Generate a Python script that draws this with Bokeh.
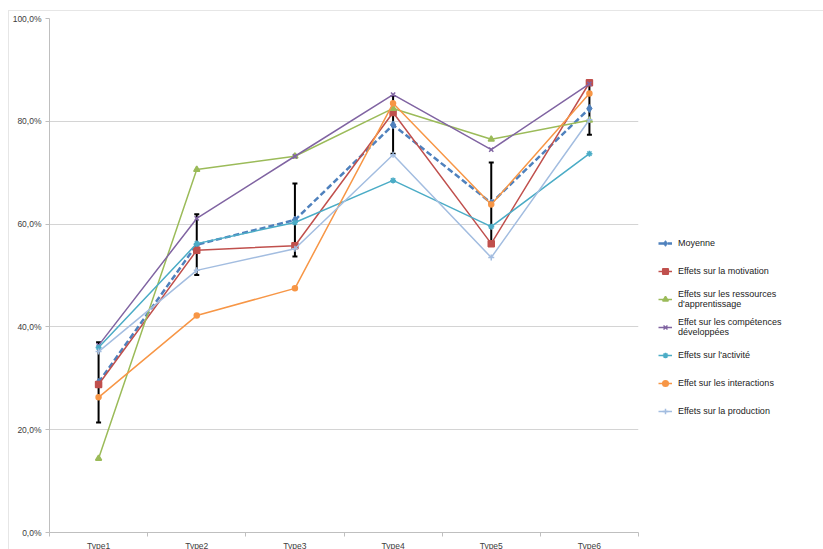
from bokeh.plotting import figure
from bokeh.models import (FixedTicker, Legend, LegendItem, Whisker, ColumnDataSource,
                          Range1d, TeeHead)
from bokeh.embed import file_html
from bokeh.resources import INLINE

categories = ["Type1", "Type2", "Type3", "Type4", "Type5", "Type6"]
moyenne = [29.2, 56.0, 60.8, 79.3, 64.1, 82.5]
moyenne_err = [7.8, 5.9, 7.1, 5.6, 7.9, 5.1]
motivation = [28.8, 54.9, 55.8, 81.7, 56.2, 87.5]
ressources = [14.4, 70.6, 73.2, 82.5, 76.5, 80.2]
competences = [36.4, 61.1, 73.2, 85.2, 74.5, 87.3]
activite = [36.0, 56.2, 60.3, 68.5, 59.5, 73.7]
interactions = [26.3, 42.2, 47.5, 83.5, 63.8, 85.4]
production = [35.2, 51.0, 55.2, 73.5, 53.5, 80.3]
y_ticks = [0, 20, 40, 60, 80, 100]

series = [
    ("Moyenne", moyenne, "#4F81BD", "diamond", 8),
    ("Effets sur la motivation", motivation, "#C0504D", "square", 6),
    ("Effets sur les ressources\nd'apprentissage", ressources, "#9BBB59", "triangle", 6),
    ("Effet sur les compétences\ndéveloppées", competences, "#8064A2", "x", 6),
    ("Effets sur l'activité", activite, "#4BACC6", "asterisk", 6),
    ("Effet sur les interactions", interactions, "#F79646", "circle", 5),
    ("Effets sur la production", production, "#A3BDE0", "cross", 6),
]

xs = list(range(1, len(categories) + 1))
FONT = "Liberation Sans"

p = figure(frame_width=589, frame_height=514, output_backend="svg", toolbar_location=None,
           x_range=Range1d(0.5, len(categories) + 0.5), y_range=Range1d(0, 100),
           min_border_left=36, min_border_top=7, min_border_bottom=14,
           min_border_right=0, background_fill_color="white",
           border_fill_color="white")
p.margin = (10, 0, 0, 8)
p.styles = {"border-top": "1px solid #E6E6E6", "border-left": "1px solid #E6E6E6"}
p.outline_line_color = None
p.xgrid.grid_line_color = None
p.ygrid.grid_line_color = "#D4D4D4"
p.ygrid.grid_line_width = 1

p.yaxis.ticker = FixedTicker(ticks=y_ticks, minor_ticks=[])
p.yaxis.major_label_overrides = {t: f"{t:.1f}%".replace(".", ",") for t in y_ticks}
p.xaxis.ticker = FixedTicker(ticks=xs, minor_ticks=[x + 0.5 for x in [0] + xs])
p.xaxis.major_label_overrides = {x: c for x, c in zip(xs, categories)}
for ax in (p.xaxis, p.yaxis):
    ax.axis_line_color = "#BFBFBF"
    ax.major_label_text_font = FONT
    ax.major_label_text_font_size = "8.5px"
    ax.major_label_text_color = "#404040"
    ax.minor_tick_in = 0
    ax.minor_tick_out = 4
    ax.minor_tick_line_color = "#BFBFBF"
p.yaxis.major_tick_in = 0
p.yaxis.major_tick_out = 4
p.yaxis.major_tick_line_color = "#BFBFBF"
p.yaxis.major_label_standoff = 4
p.xaxis.major_tick_line_color = None
p.xaxis.major_tick_in = 0
p.xaxis.major_tick_out = 0
p.xaxis.major_label_standoff = 4

items = []
for i, (name, vals, color, marker, size) in enumerate(series):
    src = ColumnDataSource(dict(x=xs, y=vals))
    if i == 0:
        lr = p.line("x", "y", source=src, line_color=color, line_width=2.5,
                    line_dash="6 3")
        sr = p.scatter("x", "y", source=src, marker=marker, size=size,
                       fill_color=color, line_color=color)
        esrc = ColumnDataSource(dict(x=xs,
                                     lo=[v - e for v, e in zip(vals, moyenne_err)],
                                     hi=[v + e for v, e in zip(vals, moyenne_err)]))
        w = Whisker(base="x", lower="lo", upper="hi", source=esrc,
                    line_color="black", line_width=2,
                    upper_head=TeeHead(size=5, line_color="black", line_width=2),
                    lower_head=TeeHead(size=5, line_color="black", line_width=2))
        p.add_layout(w)
    else:
        lr = p.line("x", "y", source=src, line_color=color, line_width=1.5)
        sr = p.scatter("x", "y", source=src, marker=marker, size=size,
                       fill_color=color, line_color=color, line_width=1.5)
    items.append(LegendItem(label=name, renderers=[lr, sr]))

legend = Legend(items=items, location=(20, 111), border_line_color=None,
                background_fill_alpha=0, label_text_font=FONT,
                label_text_font_size="9px", label_text_color="#222222",
                label_height=20, glyph_height=14, glyph_width=14, spacing=8,
                padding=8, margin=0, label_standoff=6)
p.add_layout(legend, "right")

open("out.html", "w").write(file_html(p, INLINE))
